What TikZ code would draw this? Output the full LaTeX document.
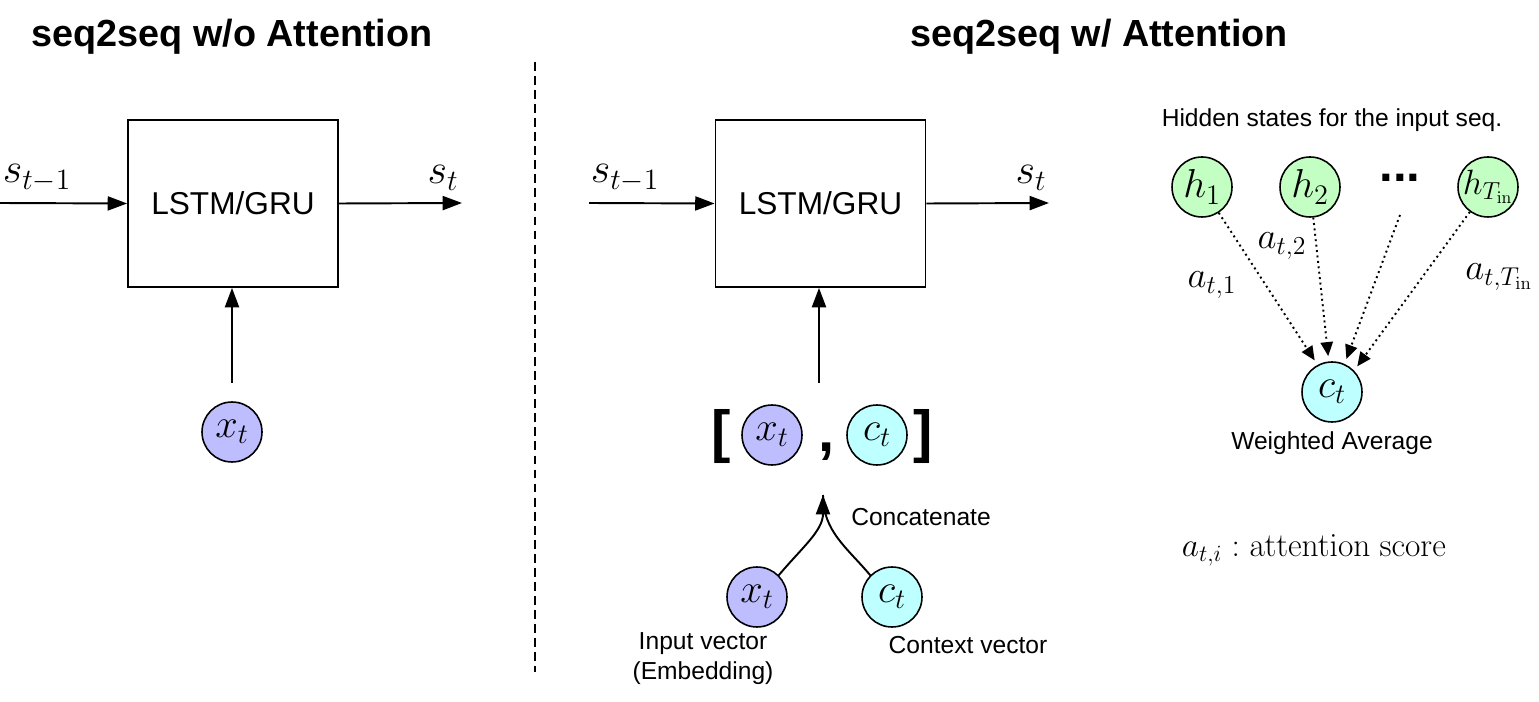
\RequirePackage{fix-cm}
\documentclass[tikz,border=0pt]{standalone}
\usepackage[no-math]{fontspec}
\setmainfont{Liberation Sans}
\usetikzlibrary{arrows.meta}
\definecolor{inblue}{RGB}{190,190,255}
\definecolor{ctxcyan}{RGB}{190,255,255}
\definecolor{hidgreen}{RGB}{195,255,195}
\begin{document}
\begin{tikzpicture}[x=0.02cm, y=-0.02cm,
  cell/.style={draw, line width=1.1pt, minimum width=4.2cm, minimum height=3.34cm, font=\fontsize{18}{20}\selectfont},
  vec/.style={draw, circle, line width=0.9pt, minimum size=1.2cm, inner sep=0pt, font=\fontsize{23}{25}\selectfont},
  arr/.style={-{Triangle[length=11pt,width=8pt]}, line width=1.1pt},
  attn/.style={-{Triangle[length=8pt,width=7pt]}, line width=1.1pt, dotted, shorten >=3pt},
  ttl/.style={font=\fontsize{21.5}{24}\selectfont\bfseries},
  small/.style={font=\fontsize{14}{17}\selectfont, align=center},
  st/.style={font=\fontsize{24}{26}\selectfont},
  wt/.style={font=\fontsize{21}{23}\selectfont},
  brk/.style={anchor=base, inner sep=0pt, font=\fontsize{33}{36}\selectfont\bfseries}
]
\useasboundingbox (0,0) rectangle (1539,702);

% left: seq2seq without attention
\node[ttl] (t1) at (232,37) {seq2seq w/o Attention};
\node[cell] (c1) at (233,203.5) {LSTM/GRU};
\node[vec, fill=inblue] (x1) at (232,432) {$x_t$};
\coordinate (in1) at (0,203);
\coordinate (out1) at (462,203);
\coordinate (up1) at (232,383);
\draw[arr] (in1) -- (c1.west);
\draw[arr] (c1.east) -- (out1);
\draw[arr] (up1) -- (up1 |- c1.south);
\node[st] (s1) at (37,178) {$s_{t-1}$};
\node[st] (o1) at (443,178) {$s_t$};

% divider
\coordinate (dtop) at (535,62);
\coordinate (dbot) at (535,672);
\draw[dash pattern=on 5pt off 3pt, line width=0.8pt] (dtop) -- (dbot);

% right: seq2seq with attention
\node[ttl] (t2) at (1099,37) {seq2seq w/ Attention};
\node[cell] (c2) at (820.5,203.5) {LSTM/GRU};
\coordinate (in2) at (589,203);
\coordinate (out2) at (1049,203);
\coordinate (up2) at (819,383);
\draw[arr] (in2) -- (c2.west);
\draw[arr] (c2.east) -- (out2);
\draw[arr] (up2) -- (up2 |- c2.south);
\node[st] (s2) at (625,178) {$s_{t-1}$};
\node[st] (o2) at (1031,178) {$s_t$};

% concatenated input
\node[brk] (lb) at (721,452) {[};
\node[vec, fill=inblue] (x2) at (772,435) {$x_t$};
\node[brk] (cm) at (827,452) {,};
\node[vec, fill=ctxcyan] (c3) at (877,435) {$c_t$};
\node[brk] (rb) at (923,452) {]};

\node[vec, fill=inblue] (xb) at (757,597) {$x_t$};
\node[vec, fill=ctxcyan] (cb) at (892,597) {$c_t$};
\coordinate (cat) at (823,495);
\draw[line width=1.1pt] (cb.135) to[out=130,in=-90] (cat);
\draw[arr] (xb.45) to[out=50,in=-90] (cat);
\node[small] (lcat) at (921,517) {Concatenate};
\node[small] (lin) at (703,659) {Input vector\\(Embedding)};
\node[small] (lctx) at (968,645) {Context vector};

% hidden states and weighted average
\node[small] (lhid) at (1332,120) {Hidden states for the input seq.};
\node[vec, fill=hidgreen] (h1) at (1202,187) {$h_1$};
\node[vec, fill=hidgreen] (h2) at (1310,187) {$h_2$};
\node[anchor=base, font=\fontsize{28}{30}\selectfont\bfseries] (hd) at (1400,182) {...};
\node[vec, fill=hidgreen, font=\fontsize{20}{22}\selectfont] (hT) at (1488,187) {\makebox[0pt]{$h_{T_{\mathrm{in}}}$}};
\coordinate (hdots) at (1400,215);
\node[vec, fill=ctxcyan] (ct) at (1332,392) {$c_t$};
\node[small] (lavg) at (1332,443) {Weighted Average};
\draw[attn] (h1) -- (ct.118);
\draw[attn] (h2) -- (ct.96);
\draw[attn] (hdots) -- (ct.66);
\draw[attn] (hT) -- (ct.44);
\node[wt] (a1) at (1212,285) {$a_{t,1}$};
\node[wt] (a2) at (1282,246) {$a_{t,2}$};
\node[wt] (aT) at (1499,277) {$a_{t,T_{\mathrm{in}}}$};
\node[font=\fontsize{19}{21}\selectfont] (key) at (1314,550) {$a_{t,i} : \mathrm{attention\ score}$};
\end{tikzpicture}
\end{document}
